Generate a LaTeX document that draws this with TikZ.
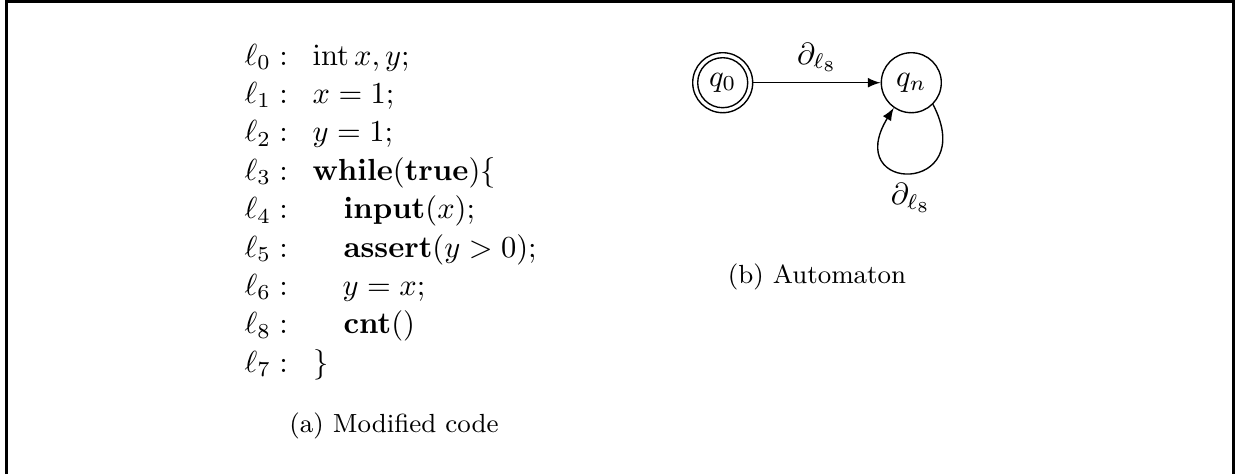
\documentclass[tikz,border=0pt]{standalone}
\usetikzlibrary{arrows}
\tikzset{
  codetext/.style={anchor=base west, inner sep=0pt, font=\fontsize{10pt}{12pt}\selectfont},
  captext/.style={anchor=base, inner sep=0pt, font=\fontsize{8.6pt}{10pt}\selectfont},
  statenode/.style={circle, draw, line width=0.45pt, minimum size=19.67pt, inner sep=0pt},
  edgearrow/.style={-latex, line width=0.45pt},
  framebox/.style={line width=1pt}
}
\begin{document}
\begin{tikzpicture}[x=0.32787pt, y=-0.32787pt]
\useasboundingbox (0,0) rectangle (1235,474);
\draw[framebox] (6.7,474) -- (6.7,1.7) -- (1233.3,1.7) -- (1233.3,474);
% line labels
\node[codetext] (r0) at (244,65.0)  {$\ell_0:$};
\node[codetext] (r1) at (244,103.4) {$\ell_1:$};
\node[codetext] (r2) at (244,141.8) {$\ell_2:$};
\node[codetext] (r3) at (244,180.2) {$\ell_3:$};
\node[codetext] (r4) at (244,218.6) {$\ell_4:$};
\node[codetext] (r5) at (244,257.0) {$\ell_5:$};
\node[codetext] (r6) at (244,295.4) {$\ell_6:$};
\node[codetext] (r7) at (244,333.8) {$\ell_8:$};
\node[codetext] (r8) at (244,372.2) {$\ell_7:$};
% code
\node[codetext] (c0) at (312,65.0)  {$\mathrm{int}\,x, y;$};
\node[codetext] (c1) at (312,103.4) {$x = 1;$};
\node[codetext] (c2) at (312,141.8) {$y = 1;$};
\node[codetext] (c3) at (312,180.2) {$\mathbf{while}(\mathbf{true})\{$};
\node[codetext] (c4) at (343,218.6) {$\mathbf{input}(x);$};
\node[codetext] (c5) at (343,257.0) {$\mathbf{assert}(y > 0);$};
\node[codetext] (c6) at (342,295.4) {$y = x;$};
\node[codetext] (c7) at (343,333.8) {$\mathbf{cnt}()$};
\node[codetext] (c8) at (313,372.2) {$\}$};
\node[captext] (capa) at (394,432.7) {(a) Modified code};
% automaton
\node[statenode] (q0) at (722.7,82.7) {$q_0$};
\draw[line width=0.45pt] (q0.center) circle (8.2pt);
\node[statenode] (qn) at (911.3,82.7) {$q_n$};
\draw[edgearrow] (q0) -- node[above] (e1) {$\partial_{\ell_8}$} (qn);
\draw[edgearrow] (qn.-45) .. controls (980,195) and (840,195) .. node[below] (e2) {$\partial_{\ell_8}$} (qn.-125);
\node[captext] (capb) at (817,283.3) {(b) Automaton};
\end{tikzpicture}
\end{document}
